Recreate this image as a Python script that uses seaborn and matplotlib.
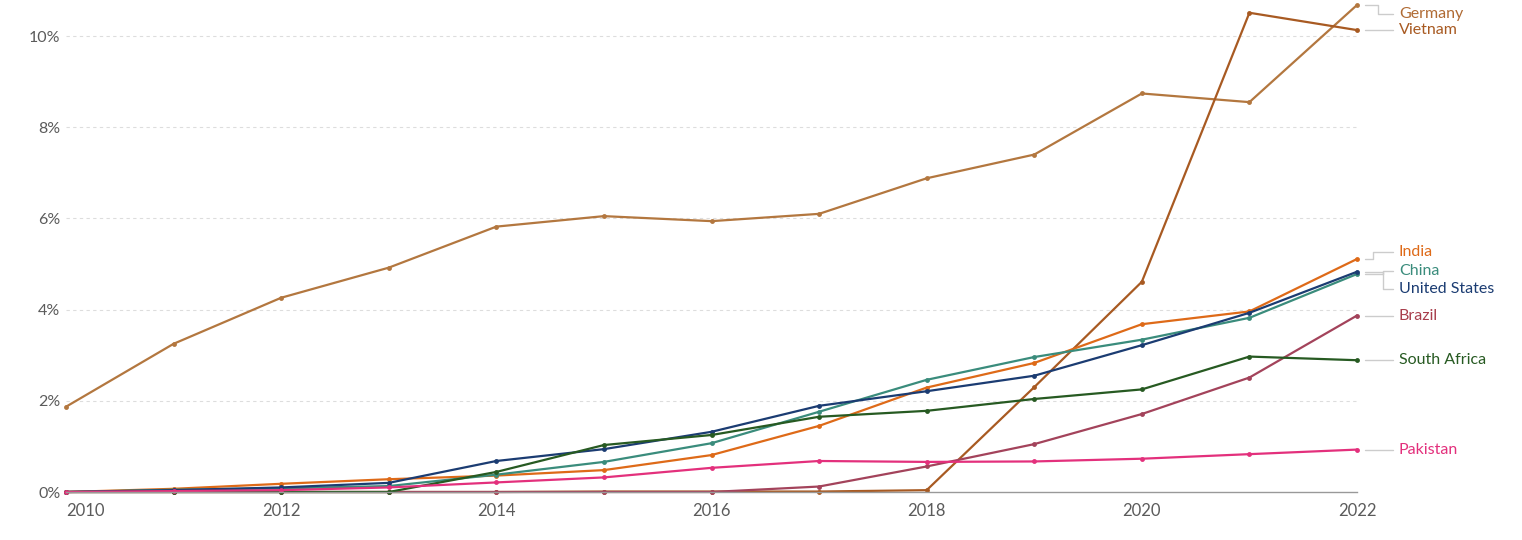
import matplotlib
matplotlib.use("Agg")
import matplotlib.pyplot as plt
import seaborn as sns
import pandas as pd

years = list(range(2010, 2023))
germany = [1.87, 3.25, 4.26, 4.92, 5.82, 6.05, 5.94, 6.10, 6.88, 7.40, 8.74, 8.55, 10.68]
vietnam = [0.0, 0.0, 0.0, 0.0, 0.0, 0.01, 0.01, 0.01, 0.04, 2.30, 4.61, 10.51, 10.13]
india = [0.0, 0.07, 0.18, 0.28, 0.36, 0.48, 0.81, 1.45, 2.29, 2.83, 3.68, 3.96, 5.11]
china = [0.0, 0.05, 0.08, 0.13, 0.38, 0.66, 1.07, 1.76, 2.46, 2.96, 3.34, 3.82, 4.78]
united_states = [0.0, 0.04, 0.10, 0.20, 0.68, 0.94, 1.32, 1.89, 2.21, 2.55, 3.22, 3.93, 4.83]
brazil = [0.0, 0.0, 0.0, 0.0, 0.0, 0.0, 0.0, 0.12, 0.56, 1.05, 1.71, 2.51, 3.87]
south_africa = [0.0, 0.0, 0.0, 0.0, 0.44, 1.03, 1.25, 1.65, 1.78, 2.04, 2.25, 2.97, 2.89]
pakistan = [0.0, 0.02, 0.04, 0.10, 0.21, 0.32, 0.53, 0.68, 0.66, 0.67, 0.73, 0.83, 0.93]

countries = ["Germany", "Vietnam", "India", "China", "United States", "Brazil", "South Africa", "Pakistan"]
series = [germany, vietnam, india, china, united_states, brazil, south_africa, pakistan]
colors = ["#B3773F", "#A85A22", "#DE6A18", "#3A8C7C", "#1B3C72", "#A3435B", "#275A22", "#E3307C"]
label_colors = ["#B06B34", "#A85A22", "#DE6A18", "#3A8C7C", "#1B3C72", "#A83E4C", "#275A22", "#E3307C"]
label_y = [10.49, 10.13, 5.26, 4.84, 4.45, 3.87, 2.89, 0.92]

yticks = [0, 2, 4, 6, 8, 10]
ytick_labels = ["0%", "2%", "4%", "6%", "8%", "10%"]
xticks = [2010, 2012, 2014, 2016, 2018, 2020, 2022]
xtick_labels = ["2010", "2012", "2014", "2016", "2018", "2020", "2022"]

rows = []
for c, s in zip(countries, series):
    for y, v in zip(years, s):
        rows.append({"Year": y, "Value": v, "Country": c})
df = pd.DataFrame(rows)

sns.set_style("white")
plt.rcParams["font.family"] = ["Lato", "DejaVu Sans"]

fig = plt.figure(figsize=(15.22, 5.40), dpi=100)
ax = fig.add_axes([66 / 1522, 48 / 540, 1291 / 1522, 492 / 540])

palette = dict(zip(countries, colors))
sns.lineplot(data=df, x="Year", y="Value", hue="Country", palette=palette,
             marker="o", markersize=3.5, markeredgewidth=0, linewidth=1.6,
             legend=False, ax=ax, clip_on=False)

ax.set_xlim(2010, 2022)
ax.set_ylim(0, 10.79)
ax.set_yticks(yticks)
ax.set_yticklabels(ytick_labels)
ax.set_xticks(xticks)
ax.set_xticklabels(xtick_labels)
ax.get_xticklabels()[0].set_horizontalalignment("left")
ax.set_xlabel("")
ax.set_ylabel("")
for y in yticks[1:]:
    ax.axhline(y, color="#dddddd", linestyle=(0, (3, 3)), linewidth=0.8, zorder=0)

for side in ["top", "right", "left"]:
    ax.spines[side].set_visible(False)
ax.spines["bottom"].set_color("#999999")
ax.spines["bottom"].set_linewidth(1.0)
ax.tick_params(axis="y", length=0, pad=4, labelsize=11.5, labelcolor="#5b5b5b")
ax.tick_params(axis="x", length=5, width=0.8, color="#999999", pad=3,
               labelsize=12, labelcolor="#5b5b5b", direction="out")

# right-side labels with connectors
px = 1 / 107.6
x0 = 2022 + 8 * px
x_text = 2022 + 42 * px
x_end = 2022 + 36 * px
elbow = [2022 + 21 * px, 2022 + 28 * px, 2022 + 16 * px, 2022 + 26 * px, 2022 + 26 * px,
         None, None, None]
for c, s, lc, ly, ex in zip(countries, series, label_colors, label_y, elbow):
    endv = s[-1]
    if ex is None or abs(endv - ly) < 0.02:
        ax.plot([x0, x_end], [endv, endv], color="#cccccc", lw=1, clip_on=False)
    else:
        ax.plot([x0, ex, ex, x_end], [endv, endv, ly, ly], color="#cccccc", lw=1, clip_on=False)
    ax.text(x_text, ly, c, color=lc, fontsize=11.5, va="center", ha="left")

fig.savefig("out.png", dpi=100, facecolor="white")
